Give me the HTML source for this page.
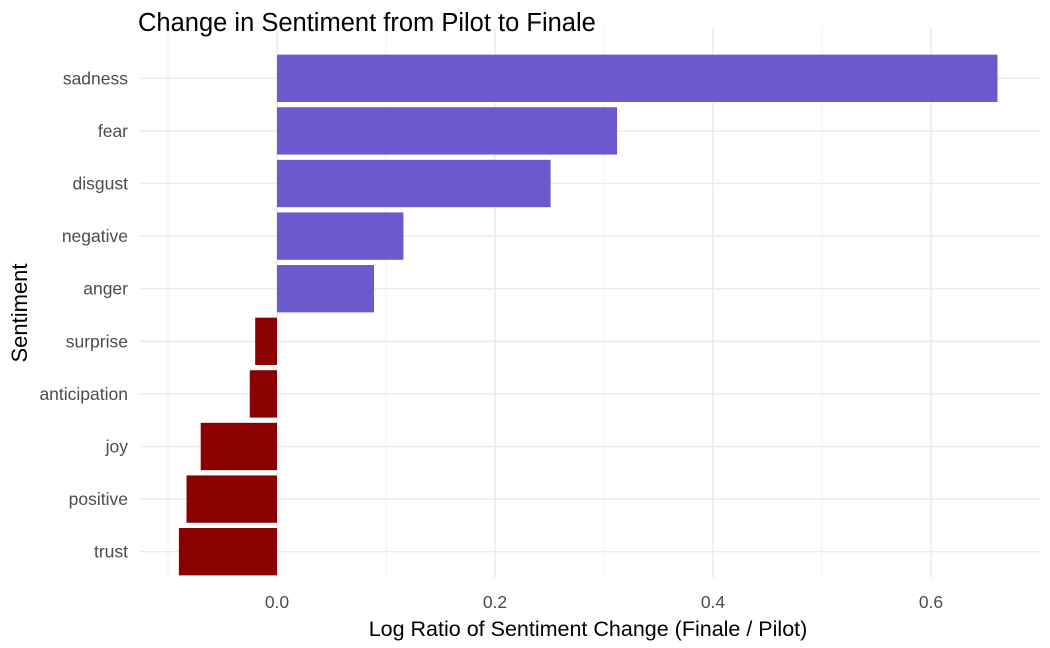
<!DOCTYPE html>
<html><head><meta charset="utf-8"><style>
body{margin:0;background:#fff;}
svg{display:block;font-family:"Liberation Sans",Arial,sans-serif;}
</style></head><body>
<svg id="chart" width="1050" height="648"></svg>
<script>
const categories=["sadness","fear","disgust","negative","anger","surprise","anticipation","joy","positive","trust"];
const values=[0.661,0.312,0.251,0.116,0.089,-0.020,-0.025,-0.070,-0.083,-0.090];
const xTicks=[0.0,0.2,0.4,0.6];
const xTickLabels=["0.0","0.2","0.4","0.6"];
const xMinor=[-0.1,0.1,0.3,0.5];

const NS="http://www.w3.org/2000/svg";
const svg=document.getElementById('chart');
const panel={l:140,r:1040,t:52,b:578};
const x0=277, pxPerUnit=1090;
const xs=v=>x0+v*pxPerUnit;
const band=(panel.b-panel.t)/categories.length;
const ys=i=>panel.t+band*(i+0.5);
function mk(tag,attrs,parent){const e=document.createElementNS(NS,tag);for(const k in attrs)e.setAttribute(k,attrs[k]);(parent||svg).appendChild(e);return e;}

const grid=mk('g',{});


xMinor.forEach(v=>mk('line',{x1:xs(v),x2:xs(v),y1:panel.t-25,y2:panel.b,stroke:'#f2f2f2','stroke-width':1},grid));
xTicks.forEach(v=>mk('line',{x1:xs(v),x2:xs(v),y1:panel.t-25,y2:panel.b,stroke:'#ebebeb','stroke-width':1.4},grid));
categories.forEach((c,i)=>mk('line',{x1:panel.l,x2:panel.r,y1:ys(i),y2:ys(i),stroke:'#ebebeb','stroke-width':1.4},grid));

const bars=mk('g',{});


values.forEach((v,i)=>{
  const h=band*0.9;
  const r=mk('rect',{x:Math.min(xs(0),xs(v)),y:ys(i)-h/2,width:Math.abs(xs(v)-xs(0)),height:h,fill:v>=0?'#6A5ACD':'#8B0000'},bars);
  
  
});

categories.forEach((c,i)=>{
  const t=mk('text',{x:128,y:ys(i)+6,'text-anchor':'end','font-size':17.5,fill:'#4d4d4d'});
  t.textContent=c;
  
  
});
xTicks.forEach((v,i)=>{
  const t=mk('text',{x:xs(v),y:608,'text-anchor':'middle','font-size':17.5,fill:'#4d4d4d'});
  t.textContent=xTickLabels[i];
  
  
});

const title=mk('text',{x:138,y:31,'font-size':25.5,fill:'#000'});
title.textContent='Change in Sentiment from Pilot to Finale';



const xt=mk('text',{x:588,y:636,'text-anchor':'middle','font-size':21.5,fill:'#000'});
xt.textContent='Log Ratio of Sentiment Change (Finale / Pilot)';



const yt=mk('text',{x:0,y:0,'text-anchor':'middle','font-size':22,fill:'#000',transform:'translate(27,313) rotate(-90)'});
yt.textContent='Sentiment';


</script>
</body></html>
